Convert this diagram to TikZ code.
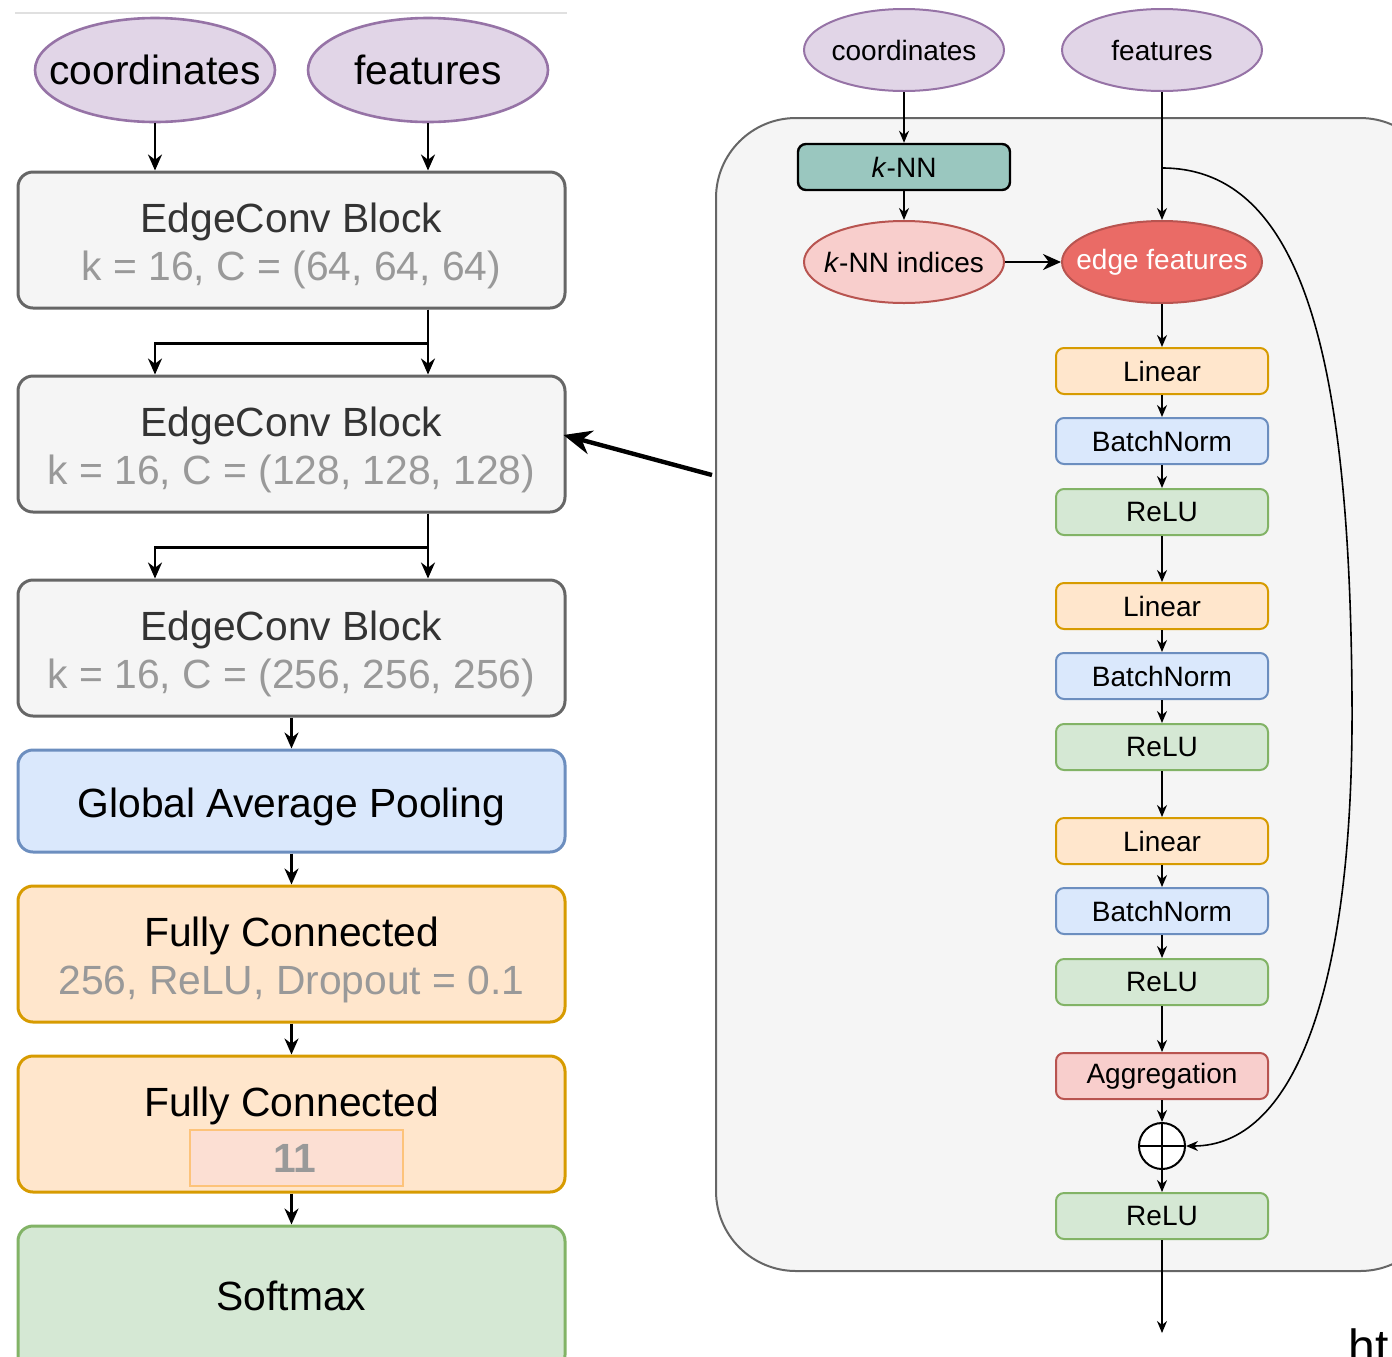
\documentclass[tikz,border=0pt]{standalone}
\usepackage{fontspec}
\setmainfont{Liberation Sans}
\usetikzlibrary{shapes.geometric,arrows.meta,calc}
\definecolor{gfill}{HTML}{F5F5F5}
\definecolor{gbord}{HTML}{666666}
\definecolor{pfill}{HTML}{E1D5E7}
\definecolor{pbord}{HTML}{9673A6}
\definecolor{bfill}{HTML}{DAE8FC}
\definecolor{bbord}{HTML}{6C8EBF}
\definecolor{ofill}{HTML}{FFE6CC}
\definecolor{obord}{HTML}{D79B00}
\definecolor{gnfill}{HTML}{D5E8D4}
\definecolor{gnbord}{HTML}{82B366}
\definecolor{rfill}{HTML}{F8CECC}
\definecolor{rbord}{HTML}{B85450}
\definecolor{rdark}{HTML}{EA6B66}
\definecolor{tfill}{HTML}{9AC7BF}
\definecolor{subgray}{HTML}{999999}
\definecolor{titlegray}{HTML}{333333}
\definecolor{innerfill}{HTML}{FCDFD3}
\definecolor{innerbord}{HTML}{FDC37A}
\begin{document}
\begin{tikzpicture}[x=0.5pt,y=-0.5pt,
  bigfont/.style={font=\fontsize{20.4}{24}\selectfont},
  smallfont/.style={font=\fontsize{14}{17}\selectfont},
  lbox/.style={draw, rounded corners=7.5pt, line width=1.5pt, minimum width=273.5pt, minimum height=68pt, inner sep=0pt},
  ltext/.style={anchor=base, inner sep=0pt, bigfont},
  lell/.style={ellipse, draw=pbord, fill=pfill, line width=1.3pt, minimum width=120pt, minimum height=52pt, inner sep=0pt, bigfont},
  rell/.style={ellipse, draw, line width=1pt, minimum width=100pt, minimum height=41pt, inner sep=0pt, smallfont},
  rbox/.style={draw, rounded corners=4pt, line width=1pt, minimum width=106pt, minimum height=23pt, inner sep=0pt, smallfont},
  linbox/.style={rbox, draw=obord, fill=ofill},
  bnbox/.style={rbox, draw=bbord, fill=bfill},
  relubox/.style={rbox, draw=gnbord, fill=gnfill},
  larr/.style={line width=1.2pt, -{Stealth[length=8pt,width=7pt]}},
  rarr/.style={line width=0.8pt, -{Stealth[length=6pt,width=5pt]}},
  bigarr/.style={line width=2.2pt, -{Stealth[length=14pt,width=12pt]}}
]
\useasboundingbox (0,0) rectangle (1392,1356);
\clip (0,0) rectangle (1392,1356);

% ---------------- left panel ----------------
\draw[line width=0.6pt, draw=black!12] (15,13) -- (567,13);

\node[lell] (co) at (155,70) {\makebox[0pt]{coordinates}};
\node[lell] (fe) at (428,70) {\makebox[0pt]{features}};

\node[lbox, draw=gbord, fill=gfill] (b1) at (291.5,240) {};
\node[ltext, text=titlegray] (b1t) at (291.5,232) {EdgeConv Block};
\node[ltext, text=subgray] (b1s) at (291.5,280) {k = 16, C = (64, 64, 64)};
\node[lbox, draw=gbord, fill=gfill] (b2) at (291.5,444) {};
\node[ltext, text=titlegray] (b2t) at (291.5,436) {EdgeConv Block};
\node[ltext, text=subgray] (b2s) at (291.5,484) {k = 16, C = (128, 128, 128)};
\node[lbox, draw=gbord, fill=gfill] (b3) at (291.5,648) {};
\node[ltext, text=titlegray] (b3t) at (291.5,640) {EdgeConv Block};
\node[ltext, text=subgray] (b3s) at (291.5,688) {k = 16, C = (256, 256, 256)};
\node[lbox, draw=bbord, fill=bfill, minimum height=51pt] (gap) at (291.5,801) {};
\node[ltext] (gapt) at (291.5,817) {Global Average Pooling};
\node[lbox, draw=obord, fill=ofill] (fc1) at (291.5,954) {};
\node[ltext] (fc1t) at (291.5,946) {Fully Connected};
\node[ltext, text=subgray] (fc1s) at (291.5,994) {256, ReLU, Dropout = 0.1};
\node[lbox, draw=obord, fill=ofill] (fc2) at (291.5,1124) {};
\node[ltext] (fc2t) at (291.5,1116) {Fully Connected};
\node[draw=innerbord, fill=innerfill, line width=1pt, minimum width=106.5pt, minimum height=28pt, inner sep=0pt] (fc2n) at (296.5,1158) {};
\node[ltext, text=subgray, font=\fontsize{20.4}{24}\selectfont\bfseries] (fc2nt) at (295,1172) {11};
\node[lbox, draw=gnbord, fill=gnfill, minimum height=72pt] (soft) at (291.5,1298) {};
\node[ltext] (softt) at (291.5,1310) {Softmax};

\draw[larr] (co.south) -- (b1.north -| co.south);
\draw[larr] (fe.south) -- (b1.north -| fe.south);
\draw[larr] (b1.south -| fe.south) -- (b2.north -| fe.south);
\draw[larr] (b1.south -| fe.south) -- ++(0,34) -| (b2.north -| co.south);
\draw[larr] (b2.south -| fe.south) -- (b3.north -| fe.south);
\draw[larr] (b2.south -| fe.south) -- ++(0,34) -| (b3.north -| co.south);
\draw[larr] (b3.south) -- (gap.north);
\draw[larr] (gap.south) -- (fc1.north);
\draw[larr] (fc1.south) -- (fc2.north);
\draw[larr] (fc2.south) -- (soft.north);

% ---------------- right panel ----------------
\node[draw=gbord, fill=gfill, line width=1pt, rounded corners=40pt, minimum width=362pt, minimum height=576.5pt, inner sep=0pt] (panel) at (1078,694.5) {};

\node[rell, draw=pbord, fill=pfill] (rco) at (904,50) {\makebox[0pt]{coordinates}};
\node[rell, draw=pbord, fill=pfill] (rfe) at (1162,50) {\makebox[0pt]{features}};
\node[rbox, draw=black, fill=tfill, line width=1.2pt] (knn) at (904,167) {\textit{k}-NN};
\node[rell, draw=rbord, fill=rfill] (kidx) at (904,262) {\makebox[0pt]{\textit{k}-NN indices}};
\node[rell, draw=rbord, fill=rdark, text=white] (edge) at (1162,262) {\makebox[0pt]{edge features}};

\node[linbox] (l1) at (1162,371) {Linear};
\node[bnbox] (n1) at (1162,441) {BatchNorm};
\node[relubox] (r1) at (1162,512) {ReLU};
\node[linbox] (l2) at (1162,606) {Linear};
\node[bnbox] (n2) at (1162,676) {BatchNorm};
\node[relubox] (r2) at (1162,747) {ReLU};
\node[linbox] (l3) at (1162,841) {Linear};
\node[bnbox] (n3) at (1162,911) {BatchNorm};
\node[relubox] (r3) at (1162,982) {ReLU};
\node[rbox, draw=rbord, fill=rfill] (agg) at (1162,1076) {Aggregation};
\node[circle, draw=black, fill=white, line width=1pt, minimum size=23pt, inner sep=0pt,
  path picture={\draw[line width=1pt] (path picture bounding box.north) -- (path picture bounding box.south)
  (path picture bounding box.west) -- (path picture bounding box.east);}] (plus) at (1162,1146) {};
\node[relubox] (r4) at (1162,1216) {ReLU};
\coordinate (out) at (1162,1333);
\coordinate (split) at (1162,168);

\draw[rarr] (rco.south) -- (knn.north);
\draw[rarr] (knn.south) -- (kidx.north);
\draw[line width=1.2pt, -{Stealth[length=9pt,width=8pt]}] (kidx.east) -- (edge.west);
\draw[rarr] (rfe.south) -- (edge.north);
\draw[rarr] (edge.south) -- (l1.north);
\draw[rarr] (l1.south) -- (n1.north);
\draw[rarr] (n1.south) -- (r1.north);
\draw[rarr] (r1.south) -- (l2.north);
\draw[rarr] (l2.south) -- (n2.north);
\draw[rarr] (n2.south) -- (r2.north);
\draw[rarr] (r2.south) -- (l3.north);
\draw[rarr] (l3.south) -- (n3.north);
\draw[rarr] (n3.south) -- (r3.north);
\draw[rarr] (r3.south) -- (agg.north);
\draw[rarr] (agg.south) -- (plus.north);
\draw[rarr] (plus.south) -- (r4.north);
\draw[rarr] (r4.south) -- (out);
\draw[rarr] (split) .. controls (1310,168) and (1350,380) .. (1352,700)
  .. controls (1354,1000) and (1290,1146) .. (plus.east);

% panel-to-block arrow
\coordinate (pw) at (712,475);
\draw[bigarr] (pw) -- ($(b2.east)+(-3,-9)$);

% cut-off text at bottom right (cut off in the reference as well)
\node[anchor=base west, inner sep=0pt, font=\fontsize{24}{28}\selectfont] (ht) at (1348,1363) {ht};
\end{tikzpicture}
\end{document}
